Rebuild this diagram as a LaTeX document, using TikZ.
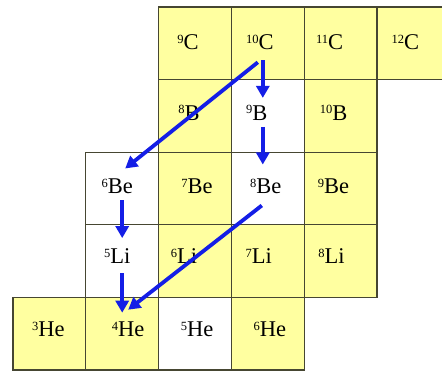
\documentclass[tikz,border=0pt]{standalone}
\usepackage{fontspec}
\setmainfont{Liberation Serif}
\usetikzlibrary{arrows.meta}
\definecolor{cellyellow}{RGB}{255,255,160}
\definecolor{cellline}{RGB}{70,70,50}
\definecolor{arrblue}{RGB}{20,30,230}
\newcommand\iso[2]{\raisebox{6.5pt}{\fontsize{12.5}{12.5}\selectfont #1}#2}
\newcommand\cellat[7]{%
  \node[#2] (#1) at (#3,#4) {};
  \node[lbl] (#1t) at ([shift={(#5,#6)}]#1.center) {#7};}
\begin{document}
\begin{tikzpicture}[x=1pt,y=-1pt,
  cell/.style={draw=cellline,line width=1.2pt,minimum width=72.8pt,minimum height=72.6pt,inner sep=0pt},
  lbl/.style={inner sep=0pt,font=\fontsize{22.5}{24}\selectfont},
  yel/.style={cell,fill=cellyellow},
  wht/.style={cell,fill=white},
  arr/.style={arrblue,line width=3.8pt,-{Triangle[length=12pt,width=13pt]}}]
\useasboundingbox (0,0) rectangle (442,371);
% row C
\cellat{c9}{yel}{195.0}{43.3}{-7}{-1}{\iso{9}{C}}
\cellat{c10}{yel}{267.8}{43.3}{-8}{-1}{\iso{10}{C}}
\cellat{c11}{yel}{340.6}{43.3}{-11}{-1}{\iso{11}{C}}
\cellat{c12}{yel}{413.4}{43.3}{-8}{-1}{\iso{12}{C}}
% row B
\cellat{b8}{yel}{195.0}{115.9}{-6}{-3}{\iso{8}{B}}
\cellat{b9}{wht}{267.8}{115.9}{-11}{-3}{\iso{9}{B}}
\cellat{b10}{yel}{340.6}{115.9}{-7}{-3}{\iso{10}{B}}
% row Be
\cellat{be6}{wht}{122.2}{188.5}{-5}{-2}{\iso{6}{Be}}
\cellat{be7}{yel}{195.0}{188.5}{2}{-2}{\iso{7}{Be}}
\cellat{be8}{wht}{267.8}{188.5}{-2}{-2}{\iso{8}{Be}}
\cellat{be9}{yel}{340.6}{188.5}{-7}{-2}{\iso{9}{Be}}
% row Li
\cellat{li5}{wht}{122.2}{261.1}{-5}{-5}{\iso{5}{Li}}
\cellat{li6}{yel}{195.0}{261.1}{-11}{-5}{\iso{6}{Li}}
\cellat{li7}{yel}{267.8}{261.1}{-9}{-5}{\iso{7}{Li}}
\cellat{li8}{yel}{340.6}{261.1}{-9}{-5}{\iso{8}{Li}}
% row He
\cellat{he3}{yel}{49.4}{333.7}{-1}{-4}{\iso{3}{He}}
\cellat{he4}{yel}{122.2}{333.7}{6}{-4}{\iso{4}{He}}
\cellat{he5}{wht}{195.0}{333.7}{2}{-4}{\iso{5}{He}}
\cellat{he6}{yel}{267.8}{333.7}{2}{-4}{\iso{6}{He}}
% arrows
\draw[arr] ([shift={(-5,17)}]c10.center) -- ([shift={(-5,-18)}]b9.center);
\draw[arr] ([shift={(-5,11)}]b9.center) -- ([shift={(-5,-24)}]be8.center);
\draw[arr] ([shift={(-10,19)}]c10.center) -- ([shift={(3,-20)}]be6.center);
\draw[arr] ([shift={(0,12)}]be6.center) -- ([shift={(0,-23)}]li5.center);
\draw[arr] ([shift={(0,12)}]li5.center) -- ([shift={(0,-21)}]he4.center);
\draw[arr] ([shift={(-6,17)}]be8.center) -- ([shift={(6,-24)}]he4.center);
\end{tikzpicture}
\end{document}
